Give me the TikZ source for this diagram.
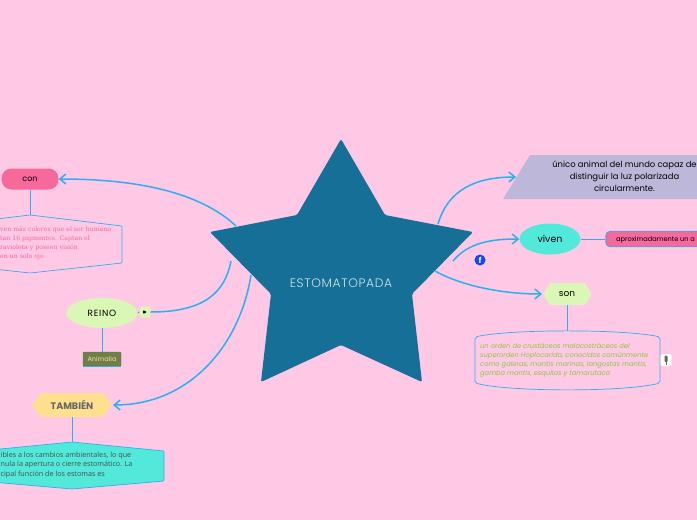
\documentclass[tikz,border=0pt]{standalone}
\usepackage{fontspec}
\setmainfont{Poppins}
\newfontfamily\thinfont{Poppins Light}
\newfontfamily\slabfont{DejaVu Serif}
\newfontfamily\opensfont{Open Sans}
\usetikzlibrary{arrows.meta, shapes.geometric, calc}
\definecolor{bgpink}{HTML}{FFC9E6}
\definecolor{starblue}{HTML}{156F97}
\definecolor{wire}{HTML}{2BB0F0}
\definecolor{hotpink}{HTML}{F7689B}
\definecolor{lime}{HTML}{DAF7B5}
\definecolor{aqua}{HTML}{52E9DA}
\definecolor{lilac}{HTML}{BDB8D9}
\definecolor{sand}{HTML}{FFE08E}
\definecolor{olive}{HTML}{6F7F4B}
\definecolor{leaf}{HTML}{8CC63F}

\begin{document}
\begin{tikzpicture}[
    x=1pt, y=-1pt,
    arr/.style={-{Straight Barb[length=6pt, width=10pt]}, line width=1.5pt, wire},
    stem/.style={line width=0.8pt, wire},
    lbl/.style={font=\fontsize{8}{10}\selectfont, inner sep=0pt, align=center},
    body/.style={font=\fontsize{6}{9}\selectfont, inner sep=0pt, align=left, anchor=west},
]

\useasboundingbox (0, 0) rectangle (697, 520);
\clip (0, 0) rectangle (697, 520);
\fill[bgpink] (0, 0) rectangle (697, 520);

% Connectors from the star
\coordinate (starA) at (236, 226);
\coordinate (starB) at (231, 261);
\coordinate (starC) at (251, 275);
\coordinate (starD) at (438, 224);
\coordinate (starE) at (453, 261);
\coordinate (starF) at (435, 271);

% Star
\fill[starblue, rounded corners=1.5pt] (341, 139) -- (385, 215) -- (473, 232) -- (412, 294) -- (422, 382)
    -- (341, 345) -- (261, 382) -- (271, 294) -- (210, 232) -- (297, 215) -- cycle;
\node[text=white!80!starblue, font=\fontsize{12.3}{14}\selectfont\thinfont\addfontfeature{LetterSpace=5}, inner sep=0pt] (root) at (341, 283) {ESTOMATOPADA};

% Left side
\node[fill=hotpink, rounded corners=10pt, minimum width=57pt, minimum height=21pt, inner sep=0pt, lbl] (con) at (30, 179) {con};
\draw[fill=bgpink, draw=wire, line width=0.7pt, rounded corners=1pt] (30, 215) -- (122, 226) -- (122, 263) -- (30, 273) -- (-62, 263) -- (-62, 226) -- cycle;
\coordinate (conbox) at (30, 215);
\node[body, text=hotpink, font=\fontsize{6.2}{9}\selectfont\slabfont] (contxt) at (0, 243.5) {ven más colores que el ser humano\\
tan 16 pigmentos. Captan el\\
ravioleta y poseen visión\\
en un solo ojo};

\node[ellipse, fill=lime, minimum width=71pt, minimum height=30pt, inner sep=0pt, lbl, font=\fontsize{9}{10}\selectfont\addfontfeature{LetterSpace=8}] (reino) at (102, 313) {REINO};
\node[fill=lime, rounded corners=1pt, minimum size=11pt, inner sep=0pt, font=\fontsize{5}{5}\selectfont] (play) at (145, 312) {\tikz\fill (0,0) -- (0,4pt) -- (4pt,2pt) -- cycle;};
\node[fill=olive, draw=olive!90!black, rounded corners=1pt, minimum width=38pt, minimum height=14pt, inner sep=0pt, text=sand, lbl, font=\fontsize{6.5}{8}\selectfont] (animalia) at (102, 359) {Animalia};
\draw[wire] (animalia.south west) -- (animalia.south east);

\fill[sand, rounded corners=1pt] (32, 405) -- (41, 393) -- (103, 393) -- (112, 405) -- (103, 417) -- (41, 417) -- cycle;
\node[lbl, text=black!60, font=\fontsize{9.5}{10}\selectfont\bfseries] (tambien) at (72, 405) {TAMBIÉN};
\coordinate (tamout) at (113, 405);
\coordinate (tamdown) at (72, 417);

\draw[fill=aqua, draw=wire, line width=0.7pt, rounded corners=1pt] (72, 442) -- (164, 451) -- (164, 481) -- (72, 489) -- (-20, 481) -- (-20, 451) -- cycle;
\coordinate (tambox) at (72, 442);
\node[body, text=black!70, font=\fontsize{7.2}{9.5}\selectfont\opensfont] (tamtxt) at (0.5, 465) {ibles a los cambios ambientales, lo que\\
nula la apertura o cierre estomático. La\\
cipal función de los estomas es};

% Right side
\fill[lilac] (530, 155) -- (720, 155) -- (720, 199) -- (503, 199) -- cycle;
\coordinate (uniin) at (516, 177);
\node[lbl, font=\fontsize{8.4}{12.2}\selectfont] (unico) at (624.5, 176.5) {único animal del mundo capaz de\\distinguir la luz polarizada\\circularmente.};

\node[ellipse, fill=aqua, minimum width=61pt, minimum height=31pt, inner sep=0pt, lbl, font=\fontsize{9.5}{10}\selectfont] (viven) at (550, 239) {viven};
\node[fill=hotpink, draw=wire!70!hotpink, line width=1.2pt, rounded corners=4pt, minimum width=130pt, minimum height=15pt, inner sep=0pt] (aprox) at (671, 239) {};
\node[lbl, anchor=west, font=\fontsize{6.6}{8}\selectfont] (aproxtxt) at (616, 239.5) {aproximadamente un a};

\fill[lime, rounded corners=1pt] (543, 294) -- (550, 283) -- (585, 283) -- (592, 294) -- (585, 305) -- (550, 305) -- cycle;
\node[lbl, font=\fontsize{9}{10}\selectfont] (son) at (567, 294) {son};
\coordinate (sonin) at (542, 294);
\coordinate (sondown) at (567, 305);

\draw[wire, line width=0.7pt, rounded corners=2pt] (475, 337) .. controls (510, 329) and (625, 329) .. (660, 337) -- (660, 383) .. controls (625, 392) and (510, 392) .. (475, 383) -- cycle;
\coordinate (sonbox) at (567, 331);
\node[body, text=leaf, font=\fontsize{6.7}{9}\selectfont\itshape] (sontxt) at (480, 360) {un orden de crustáceos malacostráceos del\\
superorden Hoplocarida, conocidos comúnmente\\
como galeras, mantis marinas, langostas mantis,\\
gamba mantis, esquilas y tamarutaca};

% Little icons
\node[circle, fill=blue!60!wire, minimum size=11pt, inner sep=0pt, text=white, font=\fontsize{8}{8}\selectfont\bfseries] (fb) at (480, 260) {f};
\node[fill=white, rounded corners=1.5pt, minimum width=11pt, minimum height=12pt, inner sep=0pt] (mic) at (666, 360) {};
\fill[black!60, rounded corners=1pt] (664.5, 355.5) rectangle (667.5, 362);
\draw[black!60, line width=0.5pt] (666, 362) -- (666, 365);

% Arrows
\draw[arr] (starA) .. controls (205, 197) and (150, 179) .. (con.east);
\draw[line width=1.5pt, wire] (starB) .. controls (225, 292) and (205, 312) .. (play.east);
\draw[arr] (starC) .. controls (240, 345) and (190, 405) .. (tamout);
\draw[arr] (starD) .. controls (448, 190) and (475, 177) .. (uniin);
\draw[arr] (starE) .. controls (468, 243) and (490, 239) .. (viven.west);
\draw[arr] (starF) .. controls (460, 285) and (500, 294) .. (sonin);

% Stems
\draw[stem] (con.south) -- (conbox);
\draw[stem] (reino.south) -- (animalia.north);
\draw[stem] (reino.east) -- (play.west);
\draw[stem] (tamdown) -- (tambox);
\draw[stem] (viven.east) -- (aprox.west);
\draw[stem] (sondown) -- (sonbox);

\end{tikzpicture}
\end{document}
